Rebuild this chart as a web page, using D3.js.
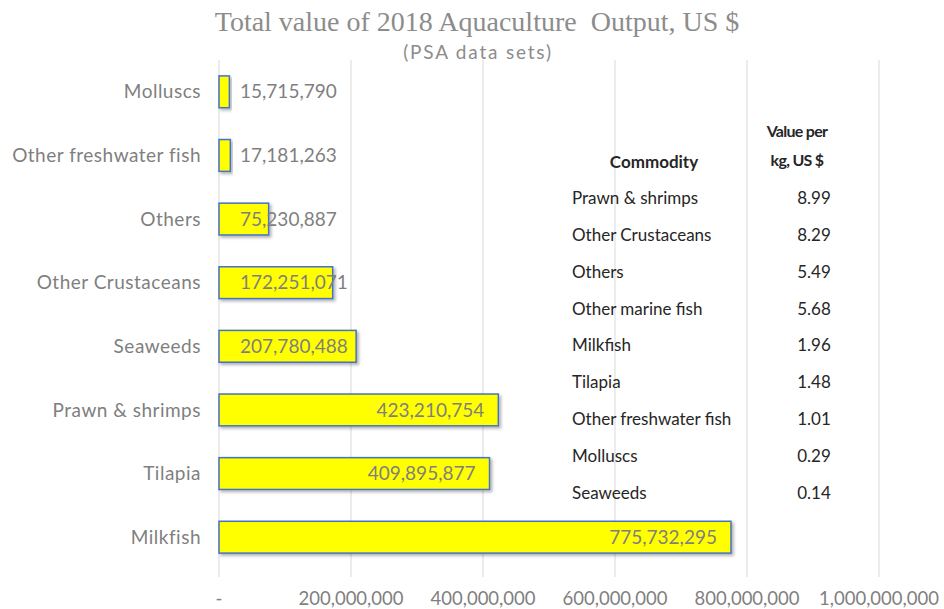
<!DOCTYPE html>
<html>
<head>
<meta charset="utf-8">
<script src="https://cdn.jsdelivr.net/npm/d3@7"></script>
<style>
  body { margin: 0; background: #fff; }
  svg { display: block; }
</style>
</head>
<body>
<div class="canvas"></div>
<script>
// data
const categories = ['Molluscs', 'Other freshwater fish', 'Others', 'Other Crustaceans',
  'Seaweeds', 'Prawn & shrimps', 'Tilapia', 'Milkfish'];
const values = [15715790, 17181263, 75230887, 172251071, 207780488, 423210754, 409895877, 775732295];
const xTicks = [0, 200000000, 400000000, 600000000, 800000000, 1000000000];

const tableCommodities = ['Prawn & shrimps', 'Other Crustaceans', 'Others', 'Other marine fish',
  'Milkfish', 'Tilapia', 'Other freshwater fish', 'Molluscs', 'Seaweeds'];
const tablePrices = ['8.99', '8.29', '5.49', '5.68', '1.96', '1.48', '1.01', '0.29', '0.14'];

const width = 944, height = 609;
const sans = 'Lato, "Open Sans", sans-serif';

const svg = d3.select('.canvas')
  .append('svg')
  .attr('width', width)
  .attr('height', height);

// drop shadow for bars
const defs = svg.append('defs');
const shadow = defs.append('filter').attr('id', 'shadow')
  .attr('x', '-10%').attr('y', '-30%').attr('width', '130%').attr('height', '180%');
shadow.append('feDropShadow')
  .attr('dx', 2).attr('dy', 2).attr('stdDeviation', 1.5)
  .attr('flood-color', '#000').attr('flood-opacity', 0.3);

//scales
const x = d3.scaleLinear()
  .domain([0, 1000000000])
  .range([219, 879]);

const y = d3.scaleBand()
  .domain(categories)
  .range([60, 569])
  .paddingInner(0.5)
  .paddingOuter(0.25);

// gridlines (run a bit below the plot like tick marks)
svg.append('g')
  .selectAll('line')
  .data(xTicks)
  .join('line')
  .attr('x1', d => x(d)).attr('x2', d => x(d))
  .attr('y1', 60).attr('y2', 577)
  .attr('stroke', '#d9d9d9')
  .attr('stroke-width', 1);

// x axis labels
const fmt = d3.format(',');
svg.append('g')
  .selectAll('text')
  .data(xTicks)
  .join('text')
  .attr('x', d => x(d))
  .attr('y', 605)
  .attr('text-anchor', 'middle')
  .attr('font-family', sans)
  .attr('font-size', 18.5)
  .attr('fill', '#7f7f7f')
  .text(d => d === 0 ? '-' : fmt(d));

// category labels
svg.append('g')
  .selectAll('text')
  .data(categories)
  .join('text')
  .attr('x', 201)
  .attr('y', d => y(d) + y.bandwidth() / 2)
  .attr('dy', '0.35em')
  .attr('text-anchor', 'end')
  .attr('font-family', sans)
  .attr('font-size', 19)
  .attr('letter-spacing', 0.5)
  .attr('fill', '#7f7f7f')
  .text(d => d);

// bars
svg.append('g')
  .selectAll('rect')
  .data(values)
  .join('rect')
  .attr('x', x(0))
  .attr('y', (d, i) => y(categories[i]))
  .attr('width', d => x(d) - x(0))
  .attr('height', y.bandwidth())
  .attr('fill', '#ffff00')
  .attr('stroke', '#4472c4')
  .attr('stroke-width', 1.5)
  .attr('filter', 'url(#shadow)');

// value labels: inside end, but never starting left of the minimum offset
const labels = svg.append('g')
  .selectAll('text')
  .data(values)
  .join('text')
  .attr('y', (d, i) => y(categories[i]) + y.bandwidth() / 2)
  .attr('dy', '0.35em')
  .attr('text-anchor', 'end')
  .attr('font-family', sans)
  .attr('font-size', 19)
  .attr('fill', '#7f7f7f')
  .text(d => fmt(d));

labels.each(function(d) {
  const w = this.getComputedTextLength();
  d3.select(this).attr('x', Math.max(x(d) - 14, x(0) + 21 + w));
});

// title
svg.append('text')
  .attr('x', 477).attr('y', 31)
  .attr('text-anchor', 'middle')
  .attr('font-family', '"Liberation Serif", serif')
  .attr('font-size', 28)
  .attr('fill', '#8c8c8c')
  .style('white-space', 'pre')
  .text('Total value of 2018 Aquaculture  Output, US $');

svg.append('text')
  .attr('x', 478).attr('y', 59)
  .attr('text-anchor', 'middle')
  .attr('font-family', sans)
  .attr('font-size', 19)
  .attr('letter-spacing', 1.8)
  .attr('fill', '#8c8c8c')
  .text('(PSA data sets)');

// price table
const row = d3.scalePoint()
  .domain(tableCommodities)
  .range([198, 493]);

const table = svg.append('g')
  .attr('font-family', sans)
  .attr('font-size', 17)
  .attr('fill', '#262626');

table.append('text')
  .attr('x', 654).attr('y', 162).attr('dy', '0.35em')
  .attr('text-anchor', 'middle')
  .attr('font-weight', 'bold')
  .text('Commodity');

table.append('text')
  .attr('x', 797).attr('y', 131).attr('dy', '0.35em')
  .attr('text-anchor', 'middle')
  .attr('font-weight', 'bold')
  .attr('font-size', 16)
  .attr('letter-spacing', -0.7)
  .text('Value per');

table.append('text')
  .attr('x', 797).attr('y', 160).attr('dy', '0.35em')
  .attr('text-anchor', 'middle')
  .attr('font-weight', 'bold')
  .attr('font-size', 16)
  .attr('letter-spacing', -0.7)
  .text('kg, US $');

table.append('g')
  .selectAll('text')
  .data(tableCommodities)
  .join('text')
  .attr('x', 572)
  .attr('y', d => row(d))
  .attr('dy', '0.35em')
  .text(d => d);

table.append('g')
  .selectAll('text')
  .data(tablePrices)
  .join('text')
  .attr('x', 814)
  .attr('y', (d, i) => row(tableCommodities[i]))
  .attr('dy', '0.35em')
  .attr('text-anchor', 'middle')
  .text(d => d);
</script>
</body>
</html>
